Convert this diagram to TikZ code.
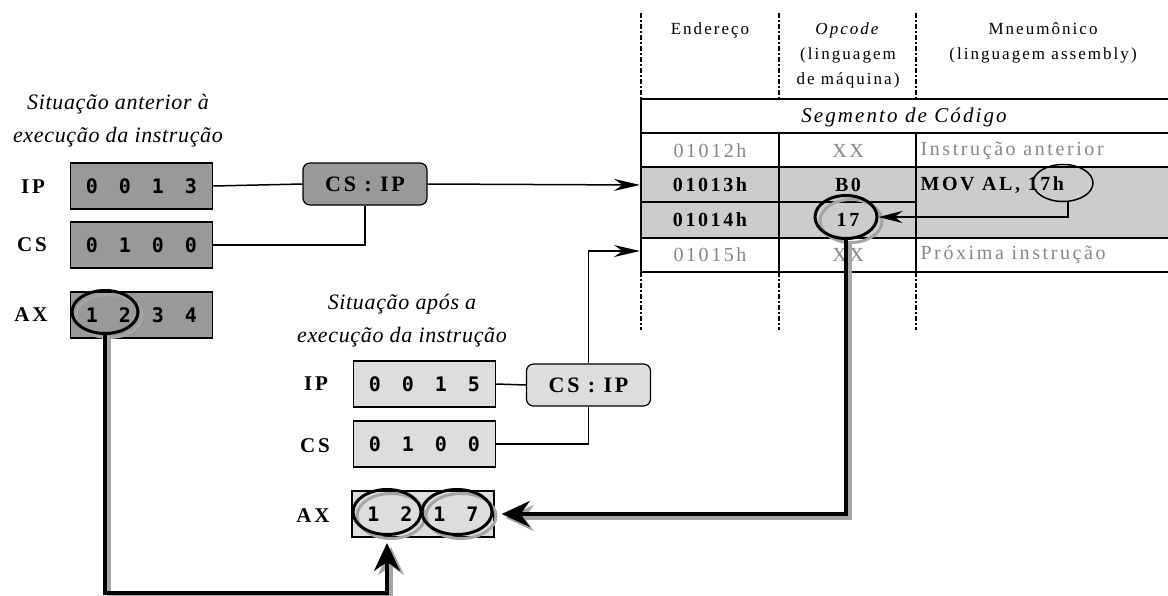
\documentclass[tikz,border=0pt]{standalone}
\usepackage{fontspec}
\setmainfont{Liberation Serif}[LetterSpace=13]
\newfontfamily\ttlfont{Liberation Serif}[LetterSpace=3]
\newfontfamily\hdrfont{Liberation Serif}[LetterSpace=12]
\newfontfamily\segfont{Liberation Serif}[LetterSpace=10]
\setmonofont{DejaVu Sans Mono}
\usetikzlibrary{arrows.meta,shapes.geometric}
\definecolor{dk}{RGB}{153,153,153}
\definecolor{lt}{RGB}{221,221,221}
\definecolor{rowc}{RGB}{204,204,204}
\definecolor{gtxt}{RGB}{135,135,135}
\definecolor{shd}{RGB}{165,165,165}
\newcommand\regdigits[4]{\makebox[33pt]{#1}\makebox[33pt]{#2}\makebox[33pt]{#3}\makebox[33pt]{#4}}
\tikzset{
  reg/.style={draw, line width=1.5pt, minimum width=142pt, minimum height=46pt, inner sep=0pt,
    font=\ttfamily\bfseries\fontsize{20}{22}\selectfont},
  regdk/.style={reg, fill=dk},
  reglt/.style={reg, fill=lt},
  rlab/.style={font=\bfseries\fontsize{21}{22}\selectfont},
  ttl/.style={font=\ttlfont\itshape\fontsize{22}{33}\selectfont, align=center},
  addrbox/.style={draw, rounded corners=7pt, line width=1.2pt, minimum width=124pt, minimum height=42pt,
    inner sep=0pt, font=\bfseries\fontsize{22}{24}\selectfont},
  conn/.style={line width=1.5pt},
  arr/.style={conn, -{Stealth[length=26pt,width=12pt]}},
  bigarr/.style={line width=3.5pt, -{Stealth[length=28pt,width=26pt]}},
  oval/.style={draw, ellipse, line width=3pt, inner sep=0pt},
  hdr/.style={font=\hdrfont\fontsize{17}{25}\selectfont, align=center},
  cell/.style={font=\fontsize{20}{22}\selectfont},
  cellb/.style={font=\bfseries\fontsize{20}{22}\selectfont},
  tline/.style={line width=2pt},
  dline/.style={line width=1.5pt, dash pattern=on 5pt off 2pt on 2pt off 2pt},
}
\begin{document}
\begin{tikzpicture}[x=1pt,y=-1pt]
\useasboundingbox (0,0) rectangle (1168,595);
% ---------- table ----------
\fill[rowc] (641,167) rectangle (1168,238);
\draw[tline] (641,99) -- (1168,99);
\draw[tline] (641,133) -- (1168,133);
\draw[tline] (641,167) -- (1168,167);
\draw[conn] (641,202) -- (916,202);
\draw[tline] (641,238) -- (1168,238);
\draw[conn] (641,272) -- (1168,272);
\draw[tline] (641,99) -- (641,272);
\draw[conn] (779,133) -- (779,272);
\draw[conn] (916,133) -- (916,272);
\foreach \x in {641,779,916}{
  \draw[dline] (\x,13) -- (\x,99);
  \draw[dline] (\x,272) -- (\x,330);
}
\node[hdr] (hA) at (710,30) {Endereço};
\node[hdr] (hO) at (848,55) {\textit{Opcode}\\(linguagem\\de máquina)};
\node[hdr] (hM) at (1043,42.5) {Mneumônico\\(linguagem assembly)};
\node[font=\segfont\itshape\fontsize{21}{22}\selectfont] (seg) at (904,117) {Segmento de Código};
\node[cell, text=gtxt] (a12) at (710,151) {01012h};
\node[cell, text=gtxt] (o12) at (848,151) {XX};
\node[cell, text=gtxt, anchor=west] (m12) at (917,151) {Instrução anterior};
\node[cellb] (a13) at (710,185) {01013h};
\node[cellb] (o13) at (848,185) {B0};
\node[cellb, anchor=west] (m13) at (917,185) {MOV AL, 17h};
\node[cellb] (a14) at (710,220) {01014h};
\node[cellb] (o14) at (848,220) {17};
\node[cell, text=gtxt] (a15) at (710,255) {01015h};
\node[cell, text=gtxt] (o15) at (848,255) {XX};
\node[cell, text=gtxt, anchor=west] (m15) at (917,255) {Próxima instrução};
\coordinate (t13) at (640,185);
\coordinate (t15) at (640,251);
% ---------- before ----------
\node[ttl] (tA) at (118,121) {Situação anterior à\\execução da instrução};
\node[regdk] (IPa) at (141.5,186) {\regdigits0013};
\node[regdk] (CSa) at (141.5,245) {\regdigits0100};
\node[regdk] (AXa) at (141.5,315) {\regdigits1234};
\node[rlab] (lIPa) at (33,187) {IP};
\node[rlab] (lCSa) at (32,245) {CS};
\node[rlab] (lAXa) at (31,315) {AX};
\node[addrbox, fill=dk] (csipA) at (365,184) {CS : IP};
\draw[conn] (IPa.east) -- (csipA.west);
\draw[conn] (CSa.east) -| (csipA.south);
\draw[arr] (csipA.east) -- (t13);
% ---------- after ----------
\node[ttl] (tB) at (402,321) {Situação após a\\execução da instrução};
\node[reglt] (IPb) at (424.5,384) {\regdigits0015};
\node[reglt] (CSb) at (424.5,444) {\regdigits0100};
\node[reglt] (AXb) at (423,514) {\regdigits1217};
\node[rlab] (lIPb) at (316,384) {IP};
\node[rlab] (lCSb) at (315,446) {CS};
\node[rlab] (lAXb) at (313,516) {AX};
\node[addrbox, fill=lt] (csipB) at (588.5,385) {CS : IP};
\draw[conn] (IPb.east) -- (csipB.west);
\draw[conn] (CSb.east) -| (csipB.south);
\draw[arr] (csipB.north) |- (t15);
% ---------- ellipses ----------
\node[oval, draw=black, line width=1.5pt, minimum width=60pt, minimum height=37pt] (e17h) at (1063,183) {};
\node[oval, draw=shd, minimum width=62pt, minimum height=43pt] (e17s) at (851,221) {};
\node[oval, minimum width=62pt, minimum height=43pt] (e17) at (846,217) {};
\node[oval, draw=shd, minimum width=66pt, minimum height=43pt] (eAs) at (109,316) {};
\node[oval, minimum width=66pt, minimum height=43pt] (eA) at (105,312) {};
\node[oval, draw=shd, minimum width=68pt, minimum height=45pt] (eB1s) at (391,516) {};
\node[oval, draw=shd, minimum width=70pt, minimum height=45pt] (eB2s) at (461,516) {};
\node[oval, minimum width=68pt, minimum height=45pt] (eB1) at (387,512) {};
\node[oval, minimum width=70pt, minimum height=45pt] (eB2) at (457,512) {};
\draw[conn, -{Stealth[length=24pt,width=12pt]}] ([xshift=5pt]e17h.south) |- (e17.east);
% ---------- thick arrows ----------
\begin{scope}[transform canvas={shift={(4pt,-4pt)}}]
\draw[bigarr, draw=shd] (e17.south) |- ([xshift=7pt]AXb.east);
\draw[bigarr, draw=shd] (eA.south) -- (105,593) -| ([yshift=-7pt]eB1.south);
\end{scope}
\draw[bigarr] (e17.south) |- ([xshift=7pt]AXb.east);
\draw[bigarr] (eA.south) -- (105,593) -| ([yshift=-7pt]eB1.south);
\end{tikzpicture}
\end{document}
